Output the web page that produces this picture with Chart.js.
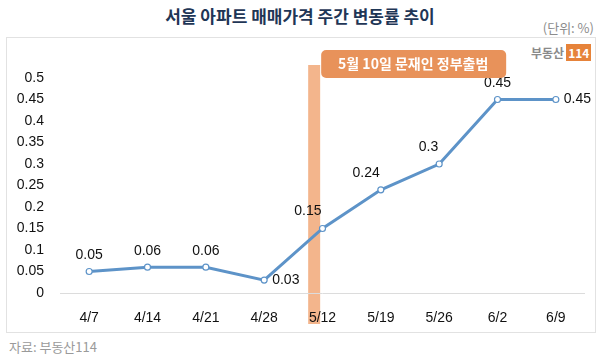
<!DOCTYPE html>
<html>
<head>
<meta charset="utf-8">
<script src="https://cdn.jsdelivr.net/npm/chart.js@4"></script>
<style>
  body { margin: 0; width: 600px; height: 359px; background: #fff; position: relative; overflow: hidden;
         font-family: "Noto Sans CJK KR", "Noto Sans", sans-serif; }
  #title { position: absolute; left: 0; width: 600px; top: 3px; text-align: center; font-size: 17px; font-weight: bold; color: #1f3656; }
  #unit { position: absolute; right: 6px; top: 18px; font-size: 13px; color: #8c8c8c; }
  #box { position: absolute; left: 6px; top: 37px; width: 590px; height: 296px; border: 1px solid #e2e2e2; box-sizing: border-box; }
  #logo { position: absolute; left: 531px; top: 44px; font-size: 12px; font-weight: bold; color: #8a8a8a; }
  #logo span { background: #e6833a; color: #fff; padding: 0 2px; margin-left: 2px; }
  #source { position: absolute; left: 9px; top: 337px; font-size: 13px; color: #9a9a9a; }
  canvas { position: absolute; left: 0; top: 0; }
</style>
</head>
<body>
<div id="box"></div>
<div id="title">서울 아파트 매매가격 주간 변동률 추이</div>
<div id="unit">(단위: %)</div>
<div id="logo">부동산<span>114</span></div>
<div id="source">자료: 부동산114</div>
<canvas id="chart" width="600" height="359"></canvas>
<script>
const weeks = ["4/7", "4/14", "4/21", "4/28", "5/12", "5/19", "5/26", "6/2", "6/9"];
const changeRate = [0.05, 0.06, 0.06, 0.03, 0.15, 0.24, 0.3, 0.45, 0.45];
const yTicks = [0, 0.05, 0.1, 0.15, 0.2, 0.25, 0.3, 0.35, 0.4, 0.45, 0.5];
const eventLabel = "5월 10일 문재인 정부출범";
// 5/10은 4/28과 5/12 사이 (12/14 지점)
const eventIndex = 3 + 12 / 14;

// 라벨 위치 (점 기준)
const labelPos = ["top", "top", "top", "right", "topleft", "topleft", "topleft", "top", "right"];

const eventPlugin = {
    id: "eventBand",
    beforeDraw(chart) {
        const c = chart.ctx;
        const x = chart.scales.x.getPixelForValue(eventIndex);
        c.save();
        c.fillStyle = "#f3b58c";
        c.fillRect(x - 6, 65, 12, 259);
        c.restore();
    },
    afterDraw(chart) {
        const c = chart.ctx;
        const x = chart.scales.x.getPixelForValue(eventIndex);
        c.save();
        c.fillStyle = "#e8925a";
        c.beginPath();
        c.roundRect(x + 7, 50, 185, 28, 5);
        c.fill();
        c.fillStyle = "#fff";
        c.font = "bold 14px 'Noto Sans CJK KR'";
        c.textAlign = "center";
        c.textBaseline = "middle";
        c.fillText(eventLabel, x + 99, 64);
        c.restore();
    }
};

const labelPlugin = {
    id: "pointLabels",
    afterDatasetsDraw(chart) {
        const c = chart.ctx;
        const meta = chart.getDatasetMeta(0);
        c.save();
        c.fillStyle = "#111";
        c.font = "14px 'Liberation Sans'";
        c.textBaseline = "middle";
        meta.data.forEach((pt, i) => {
            const txt = String(changeRate[i]);
            const pos = labelPos[i];
            if (pos === "top") {
                c.textAlign = "center";
                c.fillText(txt, pt.x, pt.y - 16);
            } else if (pos === "right") {
                c.textAlign = "left";
                c.fillText(txt, pt.x + 8, pt.y);
            } else {
                c.textAlign = "right";
                c.fillText(txt, pt.x - 1, pt.y - 17);
            }
        });
        c.restore();
    }
};

new Chart(document.getElementById("chart").getContext("2d"), {
    type: "line",
    data: {
        labels: weeks,
        datasets: [{
            data: changeRate,
            borderColor: "#5d93c8",
            borderWidth: 3,
            pointRadius: 3,
            pointBorderWidth: 1.2,
            pointBackgroundColor: "#fff",
            pointBorderColor: "#5d93c8",
            tension: 0
        }]
    },
    options: {
        responsive: false,
        animation: false,
        layout: { padding: { left: 6, right: 15, top: 78, bottom: 26 } },
        plugins: { legend: { display: false }, tooltip: { enabled: false } },
        scales: {
            x: {
                offset: true,
                grid: { display: false },
                border: { display: false },
                ticks: { color: "#111", font: { size: 14, family: "Liberation Sans" }, padding: 9, maxRotation: 0 },
                afterFit(s) { s.height = 40; }
            },
            y: {
                min: 0,
                max: 0.5,
                afterBuildTicks(s) { s.ticks = yTicks.map(v => ({ value: v })); },
                grid: {
                    drawTicks: false,
                    color: ctx => ctx.tick && ctx.tick.value === 0 ? "#dcdcdc" : "rgba(0,0,0,0)"
                },
                border: { display: false },
                ticks: { color: "#111", font: { size: 14, family: "Liberation Sans" }, padding: 16,
                         callback: v => String(Math.round(v * 100) / 100) },
                afterFit(s) { s.width = 54; }
            }
        }
    },
    plugins: [eventPlugin, labelPlugin]
});
</script>
</body>
</html>
